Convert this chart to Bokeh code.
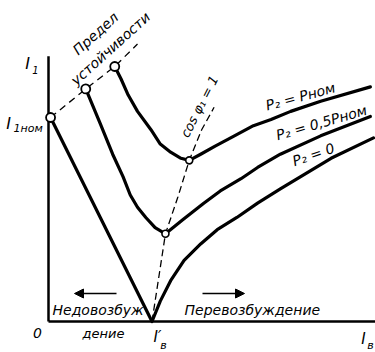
from bokeh.plotting import figure
from bokeh.models import Range1d, Arrow, NormalHead, Label
from bokeh.embed import file_html
from bokeh.resources import INLINE

# ---------------- data (relative units: I'_в = 1, I1ном = 1) ----------------
# P2 = Pном
x_p_nom = [0.64, 0.70, 0.77, 0.86, 0.99, 1.08, 1.18, 1.28, 1.36, 1.47, 1.61, 1.76,
           1.98, 2.15, 2.34, 2.63, 3.11]
y_p_nom = [1.25, 1.19, 1.11, 1.03, 0.94, 0.87, 0.83, 0.80, 0.79, 0.82, 0.86, 0.90,
           0.96, 0.99, 1.03, 1.08, 1.15]

# P2 = 0,5 Pном
x_p_half = [0.36, 0.50, 0.62, 0.72, 0.79, 0.86, 0.94, 1.03, 1.13, 1.30, 1.50, 1.66,
            1.86, 2.02, 2.24, 2.63, 3.11]
y_p_half = [1.14, 0.97, 0.82, 0.71, 0.62, 0.56, 0.51, 0.46, 0.43, 0.50, 0.58, 0.64,
            0.70, 0.755, 0.82, 0.91, 1.005]

# P2 = 0
x_p_zero = [0.02, 1.00, 1.08, 1.18, 1.31, 1.47, 1.63, 1.82, 2.02, 2.24, 2.73, 3.14]
y_p_zero = [1.00, 0.00, 0.10, 0.20, 0.30, 0.38, 0.45, 0.51, 0.58, 0.65, 0.80, 0.90]

# stability limit (dashed)
x_stab = [0.02, 0.36, 0.64, 0.86]
y_stab = [1.00, 1.14, 1.25, 1.36]

# cos φ1 = 1 (dashed)
x_cos = [1.00, 1.13, 1.25, 1.36, 1.48, 1.60]
y_cos = [0.00, 0.43, 0.61, 0.79, 0.94, 1.05]

# points marked with open circles
x_marks = [x_p_zero[0], x_p_half[0], x_p_nom[0]]
y_marks = [y_p_zero[0], y_p_half[0], y_p_nom[0]]
x_min_marks = [x_p_half[8], x_p_nom[8]]
y_min_marks = [y_p_half[8], y_p_nom[8]]

x_axis_max = 3.16
y_axis_max = 1.30

# ---------------- layout helpers (pixel -> data) ----------------
X0, Y0, SX, SY = 48.0, 321.0, 103.5, 204.0


def dx(px):
    return (px - X0) / SX


def dy(py):
    return (Y0 - py) / SY


p = figure(width=375, height=352, output_backend="svg", toolbar_location=None,
           x_range=Range1d(dx(0), dx(375)), y_range=Range1d(dy(352), dy(0)),
           x_axis_type=None, y_axis_type=None, min_border=0,
           min_border_left=0, min_border_right=0, min_border_top=0, min_border_bottom=0)
p.grid.visible = False
p.outline_line_color = None
p.background_fill_color = "white"
p.border_fill_color = "white"

# axes
p.line([0, 0], [0, y_axis_max], line_color="black", line_width=2.5)
p.line([0, x_axis_max], [0, 0], line_color="black", line_width=2.5)

# dashed construction lines
p.line(x_stab, y_stab, line_color="black", line_width=1.3, line_dash="7 5")
p.line(x_cos, y_cos, line_color="black", line_width=1.3, line_dash="7 4")

# V-curves
for xs, ys in [(x_p_nom, y_p_nom), (x_p_half, y_p_half), (x_p_zero, y_p_zero)]:
    p.line(xs, ys, line_color="black", line_width=3.2, line_join="round", line_cap="round")

# open circles
p.scatter(x_marks, y_marks, marker="circle", size=9, fill_color="white",
          line_color="black", line_width=1.8)
p.scatter(x_min_marks, y_min_marks, marker="circle", size=7, fill_color="white",
          line_color="black", line_width=1.6)

FONT = "DejaVu Sans"


def lab(text, px, py, size, angle=0, align="center", baseline="middle"):
    p.add_layout(Label(x=dx(px), y=dy(py), text=text, text_font=FONT,
                       text_font_style="italic", text_font_size=f"{size}px",
                       text_color="black", angle=angle, angle_units="deg",
                       text_align=align, text_baseline=baseline))


lab("Предел", 95, 33, 14, 42)
lab("устойчивости", 110, 48, 14, 42)
lab("cos φ₁ = 1", 199, 106, 13, 63)
lab("P₂ = Pном", 300, 96, 14, 15)
lab("P₂ = 0,5Pном", 321, 122, 14, 16)
lab("P₂ = 0", 313, 154, 14, 19)

lab("I", 27, 63, 16)
lab("1", 35, 69, 10)
lab("I", 8, 123, 16)
lab("1ном", 13, 128, 11, align="left")

lab("Недовозбуж", 52, 309, 14, align="left")
lab("дение", 103, 333, 13)
lab("Перевозбуждение", 184, 309, 14, align="left")
lab("0", 37, 332, 14)
lab("I′", 157, 336, 15)
lab("в", 163, 345, 11)
lab("I", 363, 338, 15)
lab("в", 370, 345, 11)

# direction arrows
p.add_layout(Arrow(end=NormalHead(size=9, fill_color="black", line_color="black"),
                   x_start=dx(116), y_start=dy(293), x_end=dx(74), y_end=dy(293),
                   line_width=1.5, line_color="black"))
p.add_layout(Arrow(end=NormalHead(size=9, fill_color="black", line_color="black"),
                   x_start=dx(202), y_start=dy(293), x_end=dx(244), y_end=dy(293),
                   line_width=1.5, line_color="black"))

open("out.html", "w").write(file_html(p, INLINE))
